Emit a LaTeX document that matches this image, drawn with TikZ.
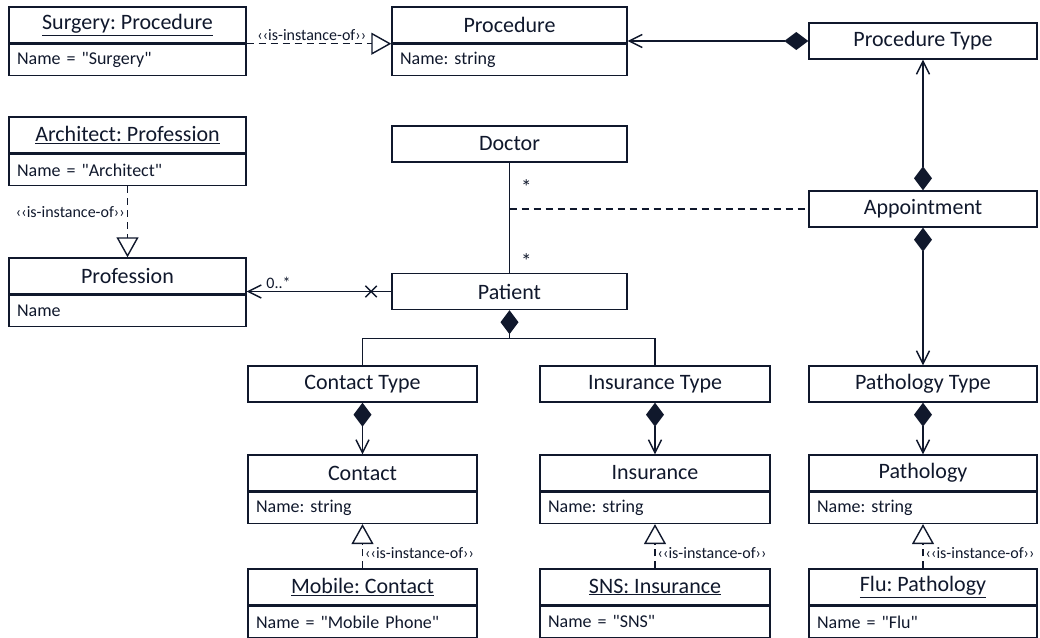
\documentclass[tikz,border=0pt]{standalone}
\usepackage{fontspec}
\setmainfont{Carlito}
\usetikzlibrary{arrows.meta,positioning,shapes.misc}

\definecolor{umlnavy}{RGB}{16,24,44}
\newcommand{\qv}[1]{\textquotedbl#1\textquotedbl}
\frenchspacing

\tikzset{
  box/.style={draw=umlnavy, line width=1.4pt, text=umlnavy, inner sep=0pt,
    minimum height=36pt, font=\fontsize{22}{25}\selectfont},
  attr/.style={draw=umlnavy, line width=1.4pt, text=umlnavy, inner xsep=8pt, inner ysep=0pt,
    minimum height=31pt, align=left, anchor=north, font=\fontsize{18}{21}\selectfont},
  lbl/.style={text=umlnavy, font=\fontsize{16}{18}\selectfont, inner sep=2pt},
  mult/.style={lbl, font=\fontsize{21}{22}\selectfont},
  link/.style={draw=umlnavy, line width=1.4pt},
  nav/.style={link, -{Straight Barb[length=13pt,width=13pt]}},
  comp/.style={link, {Diamond[length=24pt,width=18pt]}-{Straight Barb[length=13pt,width=13pt]}},
  inst/.style={link, dash pattern=on 7pt off 5pt,
    -{Triangle[open,length=20pt,width=22pt,fill=white]}},
}

\begin{document}
\begin{tikzpicture}[x=1pt,y=-1pt]
  \useasboundingbox (0,0) rectangle (1040,637);

  %disegna la riga in alto
  \node[box, minimum width=237pt] (surg) at (127.5,25) {\underline{Surgery: Procedure}};
  \node[attr, text width=221pt] (surgA) at (surg.south) {Name = \qv{Surgery}};
  \node[box, minimum width=235pt] (proc) at (509.5,25) {Procedure};
  \node[attr, text width=219pt] (procA) at (proc.south) {Name: string};
  \node[box, minimum width=228pt] (ptype) at (923,41) {Procedure Type};

  %disegna professioni, dottore e appuntamento
  \node[box, minimum width=237pt] (arch) at (127.5,135) {\underline{Architect: Profession}};
  \node[attr, text width=221pt] (archA) at (arch.south) {Name = \qv{Architect}};
  \node[box, minimum width=235pt] (doc) at (509.5,144) {Doctor};
  \node[box, minimum width=228pt] (appt) at (923,209) {Appointment};
  \node[box, minimum width=237pt] (prof) at (127.5,276) {Profession};
  \node[attr, text width=221pt] (profA) at (prof.south) {Name};
  \node[box, minimum width=235pt] (pat) at (509.5,291.5) {Patient};

  %disegna i tipi
  \node[box, minimum width=229pt] (ctype) at (362.5,384) {Contact Type};
  \node[box, minimum width=230pt] (itype) at (655,384) {Insurance Type};
  \node[box, minimum width=228pt] (gtype) at (923,384) {Pathology Type};

  %disegna le classi
  \node[box, minimum width=229pt] (cont) at (362.5,473) {Contact};
  \node[attr, text width=213pt] (contA) at (cont.south) {Name: string};
  \node[box, minimum width=230pt] (ins) at (655,473) {Insurance};
  \node[attr, text width=214pt] (insA) at (ins.south) {Name: string};
  \node[box, minimum width=228pt] (path) at (923,473) {Pathology};
  \node[attr, text width=212pt] (pathA) at (path.south) {Name: string};

  %disegna le istanze
  \node[box, minimum width=229pt] (mob) at (362.5,587) {\underline{Mobile: Contact}};
  \node[attr, text width=213pt] (mobA) at (mob.south) {Name = \qv{Mobile Phone}};
  \node[box, minimum width=230pt] (sns) at (655,587) {\underline{SNS: Insurance}};
  \node[attr, text width=214pt] (snsA) at (sns.south) {Name = \qv{SNS}};
  \node[box, minimum width=228pt] (flu) at (923,587) {\underline{Flu: Pathology}};
  \node[attr, text width=212pt] (fluA) at (flu.south) {Name = \qv{Flu}};

  %collegamenti
  \draw[inst] (surg.south east) -- node[lbl, above, pos=0.45] (l1) {‹‹is-instance-of››} (proc.south west);
  \draw[comp] (ptype.west) -- (ptype.west -| proc.east);
  \draw[comp] (appt.north) -- (ptype.south);
  \draw[comp] (appt.south) -- (gtype.north);
  \draw[inst] (archA.south) -- node[lbl, left, pos=0.37] (l2) {‹‹is-instance-of››} (prof.north);

  \draw[link] (doc.south) -- node[mult, pos=0.22, right=9pt] (m1) {*}
    coordinate[pos=0.42] (mid)
    node[mult, pos=0.89, right=9pt] (m2) {*} (pat.north);
  \draw[link, dash pattern=on 7pt off 5pt] (mid) -- (mid -| appt.west);

  \draw[nav] (pat.west) -- node[pos=0.14, cross out, draw=umlnavy, line width=1.4pt,
    minimum size=10pt, inner sep=0pt] (x1) {}
    node[lbl, pos=0.78, above] (m3) {0..*} (pat.west -| prof.east);

  \draw[link, {Diamond[length=24pt,width=18pt]}-] (pat.south) -- ++(0,28) coordinate (fork);
  \draw[link] (ctype.north) |- (fork) -| (itype.north);

  \draw[comp] (ctype.south) -- (cont.north);
  \draw[comp] (itype.south) -- (ins.north);
  \draw[comp] (gtype.south) -- (path.north);

  \draw[inst] (mob.north) -- node[lbl, right, pos=0.35] (l3) {‹‹is-instance-of››} (contA.south);
  \draw[inst] (sns.north) -- node[lbl, right, pos=0.35] (l4) {‹‹is-instance-of››} (insA.south);
  \draw[inst] (flu.north) -- node[lbl, right, pos=0.35] (l5) {‹‹is-instance-of››} (pathA.south);
\end{tikzpicture}
\end{document}
